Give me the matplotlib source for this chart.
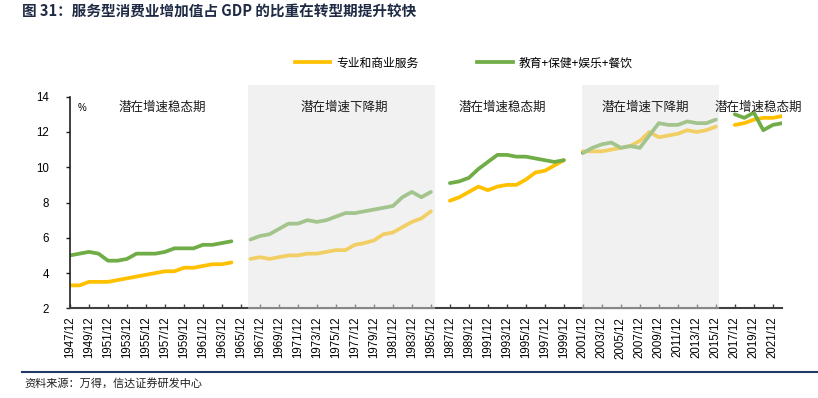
import numpy as np
import matplotlib
matplotlib.use("Agg")
import matplotlib.pyplot as plt
from matplotlib.patches import Rectangle
from matplotlib.lines import Line2D

plt.rcParams['font.family'] = ['Liberation Sans', 'Noto Sans CJK SC', 'DejaVu Sans']
CJK = ['Noto Sans CJK SC', 'DejaVu Sans']

nan = np.nan
years = list(range(1947, 2023))
tick_years = list(range(1947, 2022, 2))
tick_labels = [f"{y}/12" for y in tick_years]

series_names = ["专业和商业服务", "教育+保健+娱乐+餐饮"]

prof_business = [
    3.3, 3.3, 3.5, 3.5, 3.5, 3.6, 3.7, 3.8, 3.9, 4.0, 4.1, 4.1, 4.3, 4.3, 4.4, 4.5, 4.5, 4.6,
    nan,
    4.8, 4.9, 4.8, 4.9, 5.0, 5.0, 5.1, 5.1, 5.2, 5.3, 5.3, 5.6, 5.7, 5.85, 6.2, 6.3, 6.6, 6.9, 7.1, 7.5,
    nan,
    8.1, 8.3, 8.6, 8.9, 8.7, 8.9, 9.0, 9.0, 9.3, 9.7, 9.8, 10.1, 10.4,
    nan,
    10.9, 10.9, 10.9, 11.0, 11.1, 11.2, 11.5, 12.0, 11.7, 11.8, 11.9, 12.1, 12.0, 12.1, 12.3,
    nan,
    12.4, 12.5, 12.7, 12.8, 12.8, 12.9,
]
edu_health_leisure = [
    5.0, 5.1, 5.2, 5.1, 4.7, 4.7, 4.8, 5.1, 5.1, 5.1, 5.2, 5.4, 5.4, 5.4, 5.6, 5.6, 5.7, 5.8,
    nan,
    5.9, 6.1, 6.2, 6.5, 6.8, 6.8, 7.0, 6.9, 7.0, 7.2, 7.4, 7.4, 7.5, 7.6, 7.7, 7.8, 8.3, 8.6, 8.3, 8.6,
    nan,
    9.1, 9.2, 9.4, 9.9, 10.3, 10.7, 10.7, 10.6, 10.6, 10.5, 10.4, 10.3, 10.4,
    nan,
    10.8, 11.1, 11.3, 11.4, 11.1, 11.2, 11.1, 11.8, 12.5, 12.4, 12.4, 12.6, 12.5, 12.5, 12.7,
    nan,
    13.0, 12.8, 13.1, 12.1, 12.4, 12.5,
]

shade_periods = [(1965.7, 1985.43), (2000.94, 2015.37)]
period_labels = ["潜在增速稳态期", "潜在增速下降期", "潜在增速稳态期", "潜在增速下降期", "潜在增速稳态期"]
period_label_x = [1956.7, 1975.85, 1992.55, 2007.55, 2019.5]

ORANGE = '#FFC000'
GREEN = '#70AD47'

fig = plt.figure(figsize=(8.18, 3.98), dpi=100)
ax = fig.add_axes([70/818, 1-308.3/398, (782.3-70)/818, (308.3-96.7)/398])

ax.plot(years, prof_business, color=ORANGE, lw=2.7, solid_capstyle='round', zorder=2)
ax.plot(years, edu_health_leisure, color=GREEN, lw=2.7, solid_capstyle='round', zorder=2)

for x0, x1 in shade_periods:
    r = Rectangle((x0, 1.9), x1 - x0, 14.66 - 1.9, facecolor='#E2E2E2', alpha=0.45,
                  edgecolor='none', zorder=3, clip_on=False, transform=ax.transData)
    ax.add_patch(r)

ax.set_xlim(1947, 2022)
ax.set_ylim(2, 14)
ax.set_yticks(range(2, 15, 2))
ax.set_xticks(tick_years)
ax.set_xticklabels(tick_labels, rotation=90, fontsize=8.3, family=['Liberation Sans'])
ax.tick_params(axis='x', direction='in', length=3, width=1, color='#404040', pad=6)
ax.tick_params(axis='y', direction='out', length=3, width=1, color='#202020', labelsize=8.3, pad=12)
for lab in ax.get_yticklabels():
    lab.set_family(['Liberation Sans'])

for s in ['top', 'right']:
    ax.spines[s].set_visible(False)
ax.spines['left'].set_color('#202020')
ax.spines['left'].set_linewidth(1.2)
ax.spines['bottom'].set_color('#404040')
ax.spines['bottom'].set_linewidth(1.5)

for lbl, xx in zip(period_labels, period_label_x):
    ax.text(xx, 13.42, lbl, ha='center', va='center', fontsize=9, family=CJK,
            color='#1a1a1a', zorder=5, clip_on=False)

ax.text(1948.3, 13.35, '%', ha='center', va='center', fontsize=7, family=['Liberation Sans'], zorder=5)

handles = [Line2D([], [], color=ORANGE, lw=2.7), Line2D([], [], color=GREEN, lw=2.7)]
leg = fig.legend(handles, series_names, loc='center', bbox_to_anchor=(463.5/818, 1-63/398),
                 ncol=2, frameon=False, handlelength=3.0, handletextpad=0.5, columnspacing=5.0,
                 prop={'family': CJK, 'size': 8.5})

fig.text(22/818, 1-12/398, '图 31：服务型消费业增加值占 GDP 的比重在转型期提升较快', ha='left', va='center',
         fontsize=10.5, fontweight='bold', family=CJK, color='#1F2A44')

fig.add_artist(Line2D([22/818, 1.0], [1-371.5/398, 1-371.5/398], color='#1F3864', lw=1.5,
                      transform=fig.transFigure))
fig.text(24/818, 1-383/398, '资料来源：万得，信达证券研发中心', ha='left', va='center',
         fontsize=8, family=CJK, style='italic', color='#202020')

fig.savefig('out.png', dpi=100)
